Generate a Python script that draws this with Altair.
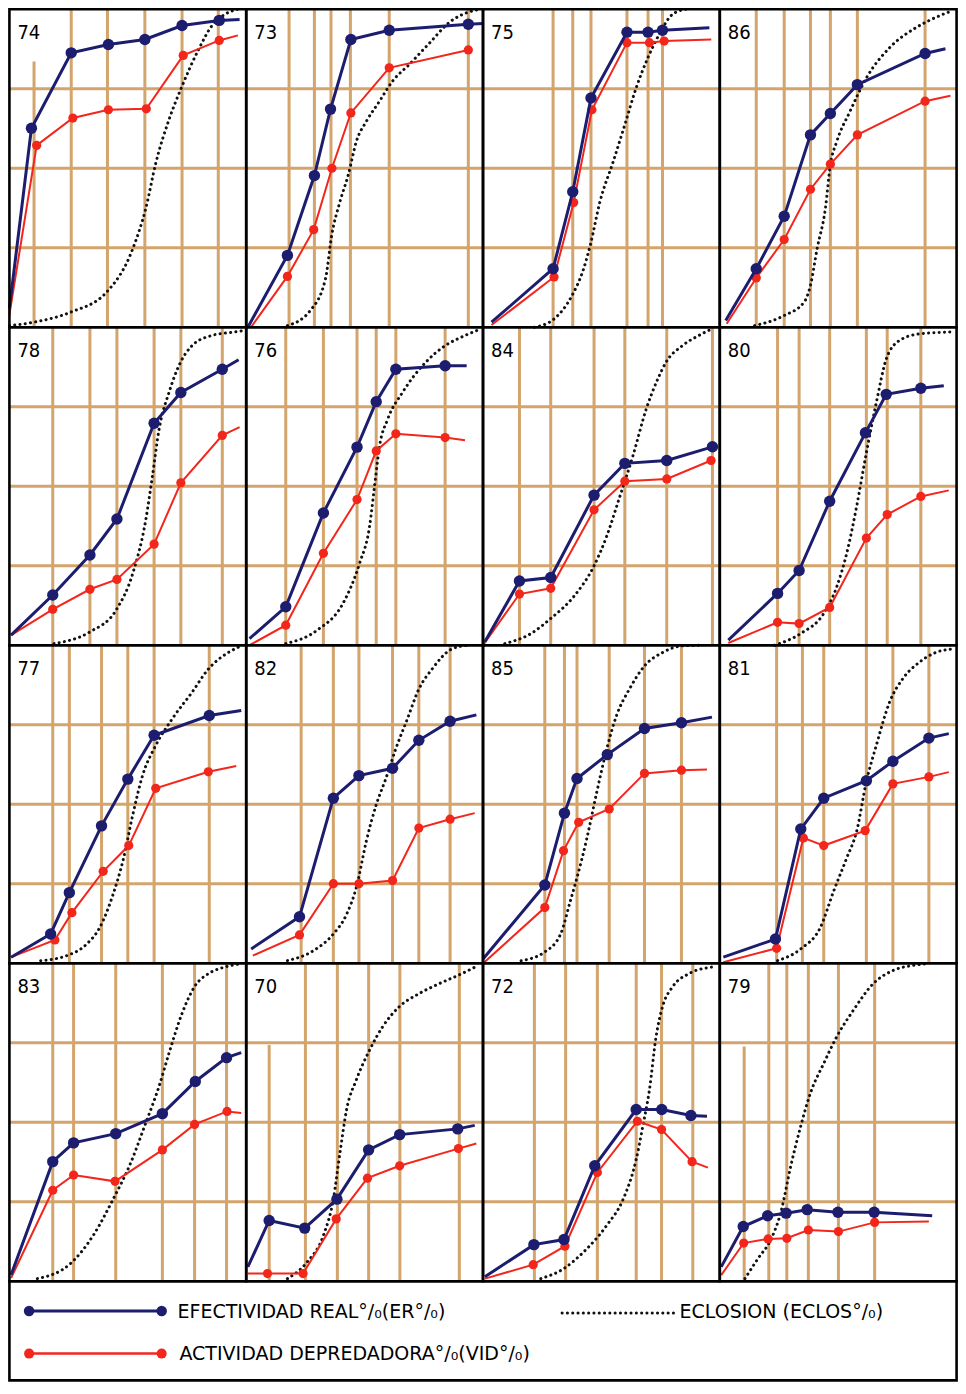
import altair as alt
import pandas as pd

PANELS = ["74", "73", "75", "86", "78", "76", "84", "80",
          "77", "82", "85", "81", "83", "70", "72", "79"]

# horizontal guide values (%)
HGRID = [25, 50, 75]

# sampling dates (vertical guide lines), % of the time axis
GRID_X = {
    "74": [10.4, 26.1, 41.4, 57.2, 72.9, 88.2],
    "73": [18.1, 28.8, 35.8, 44.0, 60.4, 93.8],
    "75": [29.6, 37.9, 45.6, 60.8, 69.7, 75.8],
    "86": [15.4, 27.2, 38.3, 46.7, 58.1, 86.7],
    "78": [18.3, 34.0, 45.4, 61.1, 72.4, 89.9],
    "76": [16.7, 32.6, 46.8, 54.9, 63.2, 84.0],
    "84": [15.4, 28.6, 46.9, 59.9, 77.6, 96.9],
    "80": [24.4, 33.5, 46.4, 61.9, 70.7, 84.9],
    "77": [18.3, 25.3, 38.9, 50.0, 61.1, 84.4],
    "82": [23.2, 36.8, 47.6, 61.8, 72.9, 86.1],
    "85": [26.1, 34.4, 39.7, 53.3, 68.2, 83.8],
    "81": [24.0, 34.9, 43.9, 61.9, 73.1, 88.3],
    "83": [18.3, 27.1, 44.9, 64.6, 78.2, 91.7],
    "70": [9.7, 25.0, 38.5, 51.7, 64.9, 90.0],
    "72": [21.7, 34.9, 48.3, 64.7, 75.4, 88.6],
    "79": [10.3, 20.7, 28.3, 37.4, 50.1, 65.4],
}
GRID_TOP = {
    "74": [83.6, 100, 100, 100, 100, 100],
    "70": [74.3, 100, 100, 100, 100, 100],
    "79": [73.8, 100, 100, 100, 100, 100],
}

# EFECTIVIDAD REAL (ER %)
ER_X = {
    "74": [0, 9.3, 26.1, 41.8, 57.2, 72.9, 88.6, 97.2],
    "73": [0.7, 17.4, 28.8, 35.6, 44.2, 60.4, 93.8, 100],
    "75": [3.6, 29.6, 37.9, 45.6, 60.8, 69.7, 75.8, 95.6],
    "86": [2.5, 15.4, 27.2, 38.3, 46.7, 58.1, 86.7, 95.3],
    "78": [0.7, 18.3, 34.0, 45.4, 61.1, 72.4, 89.9, 96.8],
    "76": [1.4, 16.7, 32.6, 46.8, 54.9, 63.2, 84.0, 93.1],
    "84": [0.8, 15.4, 28.6, 46.9, 59.9, 77.6, 96.9],
    "80": [3.6, 24.4, 33.5, 46.4, 61.5, 70.3, 84.9, 94.6],
    "77": [0.7, 17.4, 25.3, 38.9, 50.0, 61.1, 84.4, 97.9],
    "82": [2.1, 22.5, 36.8, 47.6, 61.8, 72.9, 86.1, 97.2],
    "85": [0.1, 26.1, 34.4, 39.7, 52.5, 68.2, 83.8, 96.7],
    "81": [1.5, 23.5, 34.2, 43.9, 61.9, 73.1, 88.3, 96.7],
    "83": [0.7, 18.3, 27.1, 44.9, 64.6, 78.5, 91.7, 97.9],
    "70": [0.7, 9.7, 24.7, 38.3, 51.7, 64.8, 89.3, 96.5],
    "72": [0.8, 21.5, 34.2, 47.2, 64.7, 75.5, 87.8, 94.6],
    "79": [0.6, 9.9, 20.2, 28.0, 36.9, 49.9, 65.2, 89.7],
}
ER_Y = {
    "74": [6, 62.6, 86.3, 88.9, 90.5, 94.9, 96.5, 96.8],
    "73": [0, 22.6, 47.7, 68.6, 90.5, 93.4, 95.3, 95.5],
    "75": [1.6, 18.4, 42.6, 72.1, 92.8, 92.8, 93.4, 94.2],
    "86": [2.1, 18.4, 34.9, 60.5, 67.2, 76.3, 86.1, 87.6],
    "78": [3.2, 15.8, 28.4, 39.7, 69.8, 79.5, 86.8, 89.8],
    "76": [2.1, 12.1, 41.6, 62.3, 76.6, 86.8, 87.9, 87.9],
    "84": [1.1, 20.2, 21.3, 47.2, 57.2, 58.1, 62.4],
    "80": [1.6, 16.3, 23.5, 45.3, 66.8, 78.9, 80.8, 81.6],
    "77": [1.9, 9.2, 22.2, 43.2, 57.9, 71.7, 77.9, 79.5],
    "82": [4.5, 14.6, 51.9, 59.0, 61.3, 70.1, 76.1, 78.1],
    "85": [1.4, 24.6, 47.2, 58.1, 65.6, 73.8, 75.6, 77.4],
    "81": [1.9, 7.6, 42.2, 51.9, 57.4, 63.5, 70.8, 72.2],
    "83": [2.0, 37.6, 43.5, 46.4, 52.7, 62.8, 70.3, 71.9],
    "70": [4.5, 19.1, 16.7, 25.8, 41.3, 46.1, 47.9, 49.0],
    "72": [1.4, 11.5, 13.1, 36.3, 54.0, 54.0, 52.1, 51.9],
    "79": [4.5, 17.2, 20.6, 21.4, 22.5, 21.7, 21.7, 20.6],
}

# ACTIVIDAD DEPREDADORA (VID %)
VID_X = {
    "74": [0, 11.5, 26.8, 41.8, 57.8, 73.4, 88.6, 96.5],
    "73": [2.0, 17.4, 28.5, 36.2, 44.2, 60.4, 93.8],
    "75": [3.6, 30.0, 38.3, 46.0, 60.8, 70.3, 76.5, 96.4],
    "86": [2.9, 15.4, 27.2, 38.3, 46.7, 58.1, 86.7, 97.4],
    "78": [0.7, 18.3, 34.0, 45.4, 61.1, 72.4, 89.9, 97.2],
    "76": [1.4, 16.7, 32.6, 46.8, 54.9, 63.2, 84.0, 92.4],
    "84": [0, 15.4, 28.6, 46.9, 59.9, 77.6, 96.3],
    "80": [3.6, 24.4, 33.5, 46.4, 61.9, 70.7, 84.9, 96.7],
    "77": [0.7, 19.2, 26.4, 39.6, 50.4, 61.8, 84.0, 95.8],
    "82": [2.8, 22.5, 36.8, 47.6, 61.8, 72.9, 86.1, 96.5],
    "85": [0.1, 26.1, 34.0, 40.4, 53.3, 68.2, 83.8, 94.6],
    "81": [1.5, 24.0, 35.3, 43.9, 61.4, 73.1, 88.3, 96.7],
    "83": [0.7, 18.3, 27.1, 44.6, 64.6, 78.2, 91.9, 97.9],
    "70": [0.7, 9.0, 24.0, 38.0, 51.2, 64.8, 89.6, 97.2],
    "72": [0.8, 21.2, 34.6, 48.3, 65.2, 75.4, 88.3, 95.0],
    "79": [0.6, 10.1, 20.4, 28.3, 37.4, 50.1, 65.4, 88.3],
}
VID_Y = {
    "74": [4, 57.2, 65.8, 68.4, 68.7, 85.5, 90.2, 91.8],
    "73": [0, 16.0, 30.7, 50.0, 67.4, 81.6, 87.2],
    "75": [0.7, 15.8, 39.2, 68.4, 89.5, 89.5, 90.0, 90.5],
    "86": [1.1, 15.5, 27.6, 43.4, 51.3, 60.5, 71.1, 72.8],
    "78": [3.2, 11.3, 17.6, 20.7, 31.8, 51.1, 66.0, 68.6],
    "76": [0, 6.3, 28.9, 45.8, 61.1, 66.5, 65.3, 64.5],
    "84": [0, 16.1, 17.9, 42.6, 51.6, 52.3, 58.1],
    "80": [0.7, 7.2, 6.8, 11.9, 33.7, 41.1, 46.8, 48.7],
    "77": [1.9, 7.3, 15.9, 28.9, 37.0, 55.0, 60.2, 62.0],
    "82": [2.4, 8.9, 25.0, 25.0, 26.0, 42.5, 45.3, 47.2],
    "85": [0, 17.5, 35.4, 44.3, 48.5, 59.7, 60.7, 60.9],
    "81": [0.3, 4.7, 39.4, 37.0, 41.7, 56.4, 58.6, 60.1],
    "83": [1.0, 28.6, 33.4, 31.4, 41.3, 49.3, 53.4, 52.9],
    "70": [2.4, 2.4, 2.4, 19.6, 32.4, 36.3, 41.7, 43.3],
    "72": [0.8, 5.2, 11.0, 34.2, 50.3, 47.7, 37.6, 35.7],
    "79": [1.9, 12.0, 13.3, 13.5, 16.1, 15.6, 18.5, 18.8],
}
# series whose last value carries a marker (no unmarked tail)
NO_TAIL = [("73", "VID"), ("84", "ER"), ("84", "VID")]

# ECLOSION (ECLOS %)
ECL_X = {
    "74": [0, 10.4, 25.7, 41.0, 52.1, 57.6, 61.8, 67.4, 72.9, 79.9, 85.4, 91.0, 96.5],
    "73": [17.4, 27.1, 33.5, 36.1, 39.6, 43.1, 46.5, 50.7, 56.3, 61.8, 68.8, 76.8, 86.5, 93.5, 99.0],
    "75": [21.7, 30.0, 37.6, 42.5, 45.3, 49.4, 55.0, 59.9, 64.7, 69.6, 74.4, 80.0, 85.6],
    "86": [14.7, 27.2, 35.6, 38.3, 41.1, 44.6, 46.7, 49.4, 55.0, 61.9, 71.7, 82.8, 91.1, 98.0],
    "78": [18.8, 34.0, 45.1, 52.1, 57.6, 60.4, 63.2, 67.4, 72.2, 77.1, 85.4, 93.8, 99.3],
    "76": [16.7, 29.9, 40.9, 47.9, 52.1, 54.2, 56.3, 59.7, 66.0, 75.7, 84.0, 92.4, 99.3],
    "84": [9.2, 20.3, 28.6, 38.3, 46.7, 52.2, 57.8, 63.3, 68.9, 73.8, 77.2, 84.2, 91.1, 96.7],
    "80": [23.1, 34.2, 43.9, 49.4, 53.6, 57.8, 61.9, 66.1, 70.3, 75.8, 84.2, 93.9, 98.8],
    "77": [13.2, 24.3, 32.6, 38.2, 43.8, 47.9, 52.1, 56.3, 61.8, 68.8, 77.1, 84.0, 92.4, 97.9],
    "82": [17.4, 28.5, 36.8, 42.4, 46.5, 50.7, 54.9, 59.0, 63.2, 68.1, 72.9, 78.5, 86.8, 93.8],
    "85": [16.1, 25.8, 32.8, 36.9, 39.7, 43.9, 48.1, 52.2, 56.4, 61.9, 68.2, 75.8, 84.2, 92.5],
    "81": [24.4, 34.2, 42.5, 48.1, 53.6, 57.8, 61.9, 66.1, 71.7, 77.2, 84.2, 91.1, 98.0],
    "83": [11.8, 25.7, 35.4, 43.8, 50.7, 57.6, 63.2, 67.4, 72.9, 78.5, 84.0, 91.0, 97.2],
    "70": [17.4, 25.7, 32.6, 36.8, 39.6, 42.4, 46.5, 52.1, 57.6, 64.6, 72.9, 81.3, 91.0, 97.9],
    "72": [24.4, 34.2, 42.5, 52.2, 59.2, 64.7, 67.5, 70.3, 73.1, 75.8, 80.0, 86.9, 96.7],
    "79": [10.6, 16.1, 21.7, 25.8, 30.0, 34.2, 38.3, 43.9, 49.4, 56.4, 64.7, 73.1, 81.4, 86.9],
}
ECL_Y = {
    "74": [0.5, 1.6, 4.7, 11.0, 24.7, 37.4, 51.6, 65.3, 75.8, 87.4, 94.7, 98.4, 100],
    "73": [0.5, 5.3, 15.3, 28.9, 39.5, 47.9, 58.4, 64.7, 71.1, 77.4, 82.6, 88.9, 96.3, 99.0, 100],
    "75": [0, 2.6, 10.0, 18.4, 25.8, 39.5, 52.1, 63.7, 75.3, 84.7, 92.1, 98.4, 100],
    "86": [0.5, 3.7, 7.9, 13.2, 24.7, 37.4, 51.1, 58.4, 67.9, 78.4, 87.9, 94.2, 97.4, 99.5],
    "78": [0.5, 4.2, 11.1, 22.6, 39.5, 53.2, 67.9, 79.5, 88.9, 94.2, 97.4, 98.4, 99.0],
    "76": [0.5, 4.7, 13.2, 25.8, 37.4, 50.0, 62.6, 71.0, 79.5, 88.9, 94.2, 97.4, 99.5],
    "84": [0.5, 3.7, 8.4, 15.3, 24.7, 34.2, 46.8, 59.5, 74.2, 83.7, 88.9, 94.2, 97.4, 99.5],
    "80": [0, 3.7, 10.0, 18.4, 28.9, 43.7, 60.5, 76.3, 90.0, 95.8, 97.9, 98.4, 98.6],
    "77": [0.8, 2.4, 6.0, 11.3, 21.7, 32.1, 46.7, 59.2, 68.5, 76.9, 85.2, 92.5, 97.7, 99.8],
    "82": [0.8, 4.0, 9.2, 15.4, 23.8, 38.3, 49.8, 58.1, 67.5, 76.9, 86.2, 92.5, 98.8, 100],
    "85": [0.8, 3.4, 9.2, 19.6, 26.9, 39.4, 54.0, 67.2, 77.9, 86.3, 93.5, 97.7, 99.8, 100],
    "81": [0.8, 4.5, 11.3, 22.7, 33.1, 41.5, 57.1, 68.5, 82.1, 89.4, 94.6, 97.7, 98.8],
    "83": [0.8, 5.5, 14.4, 25.8, 36.3, 49.8, 61.3, 71.7, 84.2, 93.0, 96.7, 98.8, 99.8],
    "70": [0.8, 6.0, 14.4, 25.8, 40.4, 54.0, 63.3, 72.7, 80.0, 86.3, 90.4, 93.5, 96.7, 99.3],
    "72": [0.8, 4.0, 9.2, 17.5, 25.8, 38.3, 48.8, 60.2, 76.9, 86.3, 92.5, 96.7, 98.8],
    "79": [0.8, 7.1, 13.3, 21.7, 36.3, 48.8, 59.2, 68.5, 76.9, 85.2, 93.5, 97.7, 99.3, 99.8],
}

LEGEND_ER = "EFECTIVIDAD  REAL°/₀(ER°/₀)"
LEGEND_VID = "ACTIVIDAD  DEPREDADORA°/₀(VID°/₀)"
LEGEND_ECL = "ECLOSION  (ECLOS°/₀)"

NAVY = "#1c1d6e"
RED = "#f3261c"
TAN = "#d3a46c"
FONT = "DejaVu Sans"
LFONT = "DejaVu Sans Condensed, DejaVu Sans"

# layout: 4 x 4 panels of 100 x 100 units each, legend band below
W, H = 950, 1374
LEG = 31.2
NCOL = 4
XL, XR = -0.6, 400.6
YB, YT = -LEG - 0.5, 400.4


def xpx(u):
    return (u - XL) / (XR - XL) * W


def ypx(v):
    return (YT - v) / (YT - YB) * H


rows = []
for k, p in enumerate(PANELS):
    ox = (k % NCOL) * 100
    oy = (3 - k // NCOL) * 100
    tops = GRID_TOP.get(p, [100] * len(GRID_X[p]))
    for gx, gt in zip(GRID_X[p], tops):
        rows.append(dict(panel=p, kind="grid", x=ox + gx, x2=ox + gx, y=oy, y2=oy + gt, m=0, i=0))
    for h in HGRID:
        rows.append(dict(panel=p, kind="grid", x=ox, x2=ox + 100, y=oy + h, y2=oy + h, m=0, i=0))
    for key, xs, ys in (("ER", ER_X[p], ER_Y[p]), ("VID", VID_X[p], VID_Y[p])):
        n = len(xs)
        for i, (x, y) in enumerate(zip(xs, ys)):
            marker = i > 0 and (i < n - 1 or (p, key) in NO_TAIL)
            rows.append(dict(panel=p, kind=key, x=ox + x, x2=ox + x, y=oy + y, y2=oy + y,
                             m=int(marker), i=i))
    for i, (x, y) in enumerate(zip(ECL_X[p], ECL_Y[p])):
        rows.append(dict(panel=p, kind="ECL", x=ox + x, x2=ox + x, y=oy + y, y2=oy + y, m=0, i=i))
    rows.append(dict(panel=p, kind="box", x=ox, x2=ox + 100, y=oy, y2=oy + 100, m=0, i=0))
    rows.append(dict(panel=p, kind="label", x=ox, x2=ox, y=oy + 100, y2=oy + 100, m=0, i=0))
rows.append(dict(panel="legend", kind="box", x=0, x2=400, y=-LEG, y2=0, m=0, i=0))
df = pd.DataFrame(rows)

XS = alt.Scale(domain=[XL, XR], nice=False, zero=False)
YS = alt.Scale(domain=[YB, YT], nice=False, zero=False)
X = alt.X("x:Q", scale=XS, axis=None)
Y = alt.Y("y:Q", scale=YS, axis=None)

base = alt.Chart(df)
grid = base.transform_filter(alt.datum.kind == "grid").mark_rule(
    color=TAN, strokeWidth=3).encode(x=X, x2="x2:Q", y=Y, y2="y2:Q")
ecl = base.transform_filter(alt.datum.kind == "ECL").mark_line(
    interpolate="monotone", color="#111111", strokeWidth=3,
    strokeDash=[0.1, 5.2], strokeCap="round").encode(
    x=X, y=Y, detail="panel:N", order="i:Q")
vid_line = base.transform_filter(alt.datum.kind == "VID").mark_line(
    color=RED, strokeWidth=2).encode(x=X, y=Y, detail="panel:N", order="i:Q")
vid_pts = base.transform_filter(
    (alt.datum.kind == "VID") & (alt.datum.m == 1)).mark_circle(
    color=RED, size=85, opacity=1).encode(x=X, y=Y)
er_line = base.transform_filter(alt.datum.kind == "ER").mark_line(
    color=NAVY, strokeWidth=3).encode(x=X, y=Y, detail="panel:N", order="i:Q")
er_pts = base.transform_filter(
    (alt.datum.kind == "ER") & (alt.datum.m == 1)).mark_circle(
    color=NAVY, size=130, opacity=1).encode(x=X, y=Y)
boxes = base.transform_filter(alt.datum.kind == "box").mark_rect(
    fillOpacity=0, stroke="black", strokeWidth=2.6).encode(x=X, x2="x2:Q", y=Y, y2="y2:Q")
labels = base.transform_filter(alt.datum.kind == "label").mark_text(
    align="left", baseline="alphabetic", dx=8, dy=30, fontSize=20, font=LFONT,
    color="black").encode(x=X, y=Y, text="panel:N")

# legend items, placed inside the legend band
ld = alt.Chart(pd.DataFrame({"k": [0]}))
Y1, Y2 = ypx(-LEG * 0.30), ypx(-LEG * 0.73)
LA, LB = xpx(8.3), xpx(64.3)
legend = [
    ld.mark_rule(color=NAVY, strokeWidth=3).encode(
        x=alt.value(LA), x2=alt.value(LB), y=alt.value(Y1)),
    ld.mark_circle(color=NAVY, size=110, opacity=1).encode(x=alt.value(LA), y=alt.value(Y1)),
    ld.mark_circle(color=NAVY, size=110, opacity=1).encode(x=alt.value(LB), y=alt.value(Y1)),
    ld.mark_text(align="left", baseline="middle", fontSize=19, font=FONT).encode(
        x=alt.value(xpx(71.0)), y=alt.value(Y1 + 1), text=alt.value(LEGEND_ER)),
    ld.mark_rule(color="#111111", strokeWidth=3, strokeDash=[0.1, 5.2], strokeCap="round").encode(
        x=alt.value(xpx(233.4)), x2=alt.value(xpx(281.4)), y=alt.value(Y1 + 2)),
    ld.mark_text(align="left", baseline="middle", fontSize=19, font=FONT).encode(
        x=alt.value(xpx(283.0)), y=alt.value(Y1 + 1), text=alt.value(LEGEND_ECL)),
    ld.mark_rule(color=RED, strokeWidth=2.5).encode(
        x=alt.value(LA), x2=alt.value(LB), y=alt.value(Y2)),
    ld.mark_circle(color=RED, size=100, opacity=1).encode(x=alt.value(LA), y=alt.value(Y2)),
    ld.mark_circle(color=RED, size=100, opacity=1).encode(x=alt.value(LB), y=alt.value(Y2)),
    ld.mark_text(align="left", baseline="middle", fontSize=19, font=FONT).encode(
        x=alt.value(xpx(71.8)), y=alt.value(Y2), text=alt.value(LEGEND_VID)),
]

chart = alt.layer(grid, ecl, vid_line, vid_pts, er_line, er_pts, boxes, labels, *legend).properties(
    width=W, height=H, padding=0, background="white",
    autosize=alt.AutoSizeParams(type="none")).configure_view(strokeWidth=0)

chart.save("out.html", embed_options={"renderer": "svg", "actions": False})
